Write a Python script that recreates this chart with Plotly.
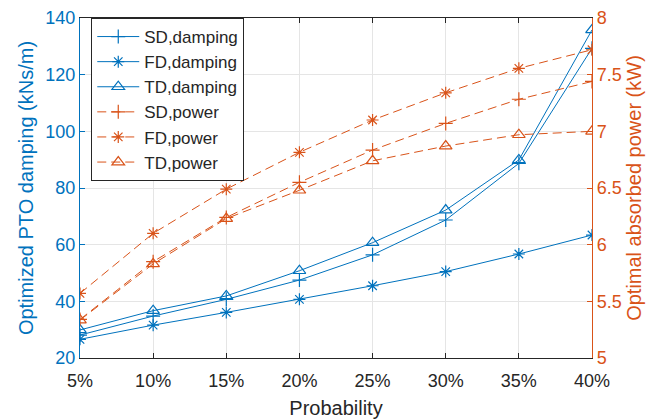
import plotly.graph_objects as go

x_labels = ["5%", "10%", "15%", "20%", "25%", "30%", "35%", "40%"]
x_vals = [5, 10, 15, 20, 25, 30, 35, 40]

sd_damping = [28.1, 34.8, 40.7, 47.5, 56.4, 68.7, 88.7, 129.3]
fd_damping = [26.6, 31.6, 36.1, 40.7, 45.5, 50.5, 56.7, 63.4]
td_damping = [29.9, 36.7, 41.9, 50.8, 60.7, 72.2, 89.9, 135.8]

sd_power = [5.34, 5.85, 6.24, 6.55, 6.835, 7.07, 7.283, 7.44]
fd_power = [5.57, 6.10, 6.49, 6.815, 7.10, 7.34, 7.556, 7.72]
td_power = [5.335, 5.83, 6.23, 6.48, 6.74, 6.87, 6.97, 7.00]

BLUE = "#0072BD"
ORANGE = "#D95319"
FONT = "Liberation Sans, Arial, sans-serif"

fig = go.Figure()

def add(name, y, color, symbol, dash, axis, size=10):
    fig.add_trace(go.Scatter(
        x=x_vals, y=y, name=name, yaxis=axis, mode="lines+markers",
        line=dict(color=color, width=1, dash=dash),
        marker=dict(symbol=symbol, size=size, color=color,
                    line=dict(color=color, width=1.2)),
    ))

add("SD,damping", sd_damping, BLUE, "cross-thin", "solid", "y")
add("FD,damping", fd_damping, BLUE, "asterisk", "solid", "y")
add("TD,damping", td_damping, BLUE, "triangle-up-open", "solid", "y", 11)
add("SD,power", sd_power, ORANGE, "cross-thin", "9px,5px", "y2")
add("FD,power", fd_power, ORANGE, "asterisk", "9px,5px", "y2")
add("TD,power", td_power, ORANGE, "triangle-up-open", "9px,5px", "y2", 11)

fig.update_layout(
    width=672, height=420,
    margin=dict(l=80, r=80, t=18, b=62),
    paper_bgcolor="white", plot_bgcolor="white",
    font=dict(family=FONT, size=18, color="#262626"),
    xaxis=dict(
        range=[5, 40], tickvals=x_vals, ticktext=x_labels,
        showgrid=True, gridcolor="#e5e5e5", gridwidth=1,
        ticks="inside", ticklen=5, tickcolor="#262626",
        showline=True, linecolor="#262626", linewidth=1, mirror="ticks",
        zeroline=False, ticklabelstandoff=6, automargin=False,
        title=dict(text="Probability", font=dict(size=20, color="#262626"), standoff=11),
        tickfont=dict(size=18, color="#262626"),
    ),
    yaxis=dict(
        range=[20, 140], tickvals=[20, 40, 60, 80, 100, 120, 140],
        showgrid=True, gridcolor="#e5e5e5", gridwidth=1,
        ticks="inside", ticklen=5, tickcolor=BLUE,
        showline=True, linecolor=BLUE, linewidth=1.2, zeroline=False,
        automargin=False,
        title=dict(text="Optimized PTO damping (kNs/m)", font=dict(size=20, color=BLUE), standoff=6),
        tickfont=dict(size=18, color=BLUE),
    ),
    yaxis2=dict(
        range=[5, 8], tickvals=[5, 5.5, 6, 6.5, 7, 7.5, 8],
        ticktext=["5", "5.5", "6", "6.5", "7", "7.5", "8"],
        overlaying="y", side="right", showgrid=False,
        ticks="inside", ticklen=5, tickcolor=ORANGE,
        showline=True, linecolor=ORANGE, linewidth=1.2, zeroline=False,
        automargin=False,
        title=dict(text="Optimal absorbed power (kW)", font=dict(size=20, color=ORANGE), standoff=6),
        tickfont=dict(size=18, color=ORANGE),
    ),
    legend=dict(
        x=0.022, y=1.0, xanchor="left", yanchor="top",
        bgcolor="white", bordercolor="#262626", borderwidth=1,
        font=dict(size=17, color="#262626"),
        itemwidth=42, tracegroupgap=0,
    ),
    showlegend=True,
)

fig.write_html("out.html")
